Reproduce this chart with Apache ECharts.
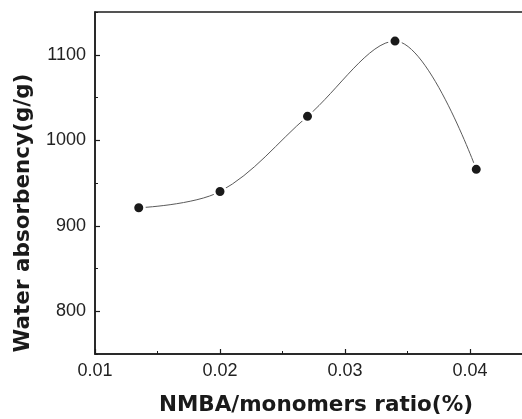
<!DOCTYPE html>
<html>
<head>
<meta charset="utf-8">
<script src="https://cdn.jsdelivr.net/npm/echarts@6/dist/echarts.min.js"></script>
<style>html,body{margin:0;padding:0;background:#fff}#chart{width:522px;height:419px}</style>
</head>
<body>
<div id="chart"></div>
<script>
// NMBA/monomers ratio (%)
const xValues = [0.0135, 0.020, 0.027, 0.034, 0.0405];
// Water absorbency (g/g)
const waterAbsorbency = [921, 940, 1028, 1116, 966];
const xTickLabels = [0.01, 0.02, 0.03, 0.04];
const yTickLabels = [800, 900, 1000, 1100];
const xName = 'NMBA/monomers ratio(%)';
const yName = 'Water absorbency(g/g)';

const points = xValues.map((x, i) => [x, waterAbsorbency[i]]);
const axisColor = '#1c1c1c';
const labelStyle = { fontFamily: 'Liberation Sans', fontSize: 18, color: '#222' };

const chart = echarts.init(document.getElementById('chart'), null, { renderer: 'canvas' });
chart.setOption({
  animation: false,
  backgroundColor: '#fff',
  grid: { left: 95, top: 12, width: 430, height: 342, outerBoundsMode: 'none', containLabel: false,
          show: true, borderColor: axisColor, borderWidth: 1.5, backgroundColor: 'transparent' },
  xAxis: [{
    type: 'value', min: 0.01, max: 0.0444, interval: 0.01,
    axisLine: { show: true, onZero: false, lineStyle: { color: axisColor, width: 1.5 } },
    axisTick: { show: true, inside: true, length: 5, lineStyle: { color: axisColor, width: 1.2 } },
    minorTick: { show: true, splitNumber: 2, length: 3, lineStyle: { color: axisColor, width: 1 } },
    splitLine: { show: false },
    axisLabel: Object.assign({ margin: 8, showMaxLabel: false, formatter: v => v.toFixed(2) }, labelStyle),
    name: xName, nameLocation: 'middle', nameGap: 40,
    nameTextStyle: { fontFamily: 'DejaVu Sans', fontWeight: 'bold', fontSize: 21.5, color: '#1a1a1a', padding: [0, 0, 0, 12] }
  }],
  yAxis: [{
    type: 'value', min: 750, max: 1150, interval: 50,
    axisLine: { show: true, onZero: false, lineStyle: { color: axisColor, width: 1.5 } },
    axisTick: { show: true, inside: true, length: 3, lineStyle: { color: axisColor, width: 1 } },
    splitLine: { show: false },
    axisLabel: Object.assign({ margin: 9, customValues: yTickLabels, formatter: v => String(v) }, labelStyle),
    name: yName, nameLocation: 'middle', nameGap: 61,
    nameTextStyle: { fontFamily: 'DejaVu Sans', fontWeight: 'bold', fontSize: 21.5, color: '#1a1a1a', padding: [0, 60, 0, 0] }
  }, {
    type: 'value', min: 750, max: 1150, interval: 50, position: 'left', offset: 0,
    axisLine: { show: false },
    axisTick: { show: true, inside: true, length: 5, customValues: yTickLabels, lineStyle: { color: axisColor, width: 1.2 } },
    axisLabel: { show: false },
    splitLine: { show: false }
  }],
  series: [{
    type: 'line',
    data: points,
    smooth: 0.35,
    symbol: 'circle',
    symbolSize: 11.5,
    lineStyle: { color: '#5a5a5a', width: 1 },
    itemStyle: { color: '#1a1a1a', borderColor: '#fff', borderWidth: 2.5 },
    z: 3
  }]
});
</script>
</body>
</html>
